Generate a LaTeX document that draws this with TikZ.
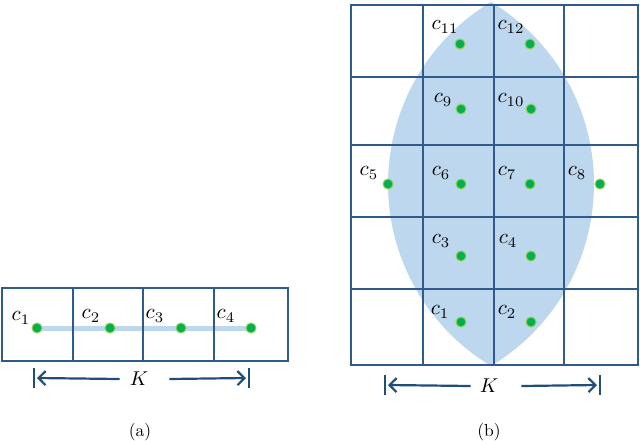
\documentclass[tikz,border=0pt]{standalone}
\usepackage{graphicx}
\usetikzlibrary{arrows.meta,calc}
\definecolor{gridc}{HTML}{2F5A8A}
\definecolor{lensc}{HTML}{BDD7EE}
\definecolor{dotc}{HTML}{00B050}
\definecolor{dotring}{HTML}{92D050}
\definecolor{arrc}{HTML}{1F4E79}
\newcommand{\mylbl}[1]{\scalebox{2.1}{$#1$}}
\newcommand{\myK}{\scalebox{2.0}{$K$}}
\newcommand{\mycap}[1]{\scalebox{1.75}{#1}}
\tikzset{
  gridline/.style={draw=gridc,line width=1.3pt},
  dotnode/.style={circle,fill=dotc,draw=dotring,line width=1pt,inner sep=0pt,minimum size=10pt},
  lab/.style={inner sep=0pt},
  kline/.style={draw=arrc,line width=2.2pt},
  karrow/.style={kline,-{Straight Barb[length=7pt,width=14pt,line width=2.2pt]}},
  captxt/.style={inner sep=0pt}
}
\begin{document}
\begin{tikzpicture}[x=1pt,y=1pt]
\useasboundingbox (0,0) rectangle (640,-440);
% ---------- (a) ----------
\coordinate (a1) at (37,-328);
\coordinate (a2) at (110,-328);
\coordinate (a3) at (181,-328);
\coordinate (a4) at (251,-328);
\draw[lensc,line width=5pt] (a1) -- (a4);
\draw[gridline] (2,-288) rectangle (288,-361);
\draw[gridline] (73,-288) -- (73,-361) (143,-288) -- (143,-361) (214,-288) -- (214,-361);
\node[dotnode] (da1) at (a1) {};
\node[dotnode] (da2) at (a2) {};
\node[dotnode] (da3) at (a3) {};
\node[dotnode] (da4) at (a4) {};
\node[lab] (la1) at (21,-318) {\mylbl{c_1}};
\node[lab] (la2) at (91,-316) {\mylbl{c_2}};
\node[lab] (la3) at (155,-316) {\mylbl{c_3}};
\node[lab] (la4) at (226,-316) {\mylbl{c_4}};
% K arrow (a)
\coordinate (aL) at (34,-378);
\coordinate (aR) at (249,-378);
\node[lab] (aK) at (139,-379) {\myK};
\draw[kline] ($(aL)+(0,10)$) -- ($(aL)+(0,-10)$);
\draw[kline] ($(aR)+(0,10)$) -- ($(aR)+(0,-10)$);
\draw[karrow] ($(aK.west)+(-10,0)$) -- ($(aL)+(3,0)$);
\draw[karrow] ($(aK.east)+(21,0)$) -- ($(aR)+(-3,0)$);
\node[captxt] (capa) at (140,-432) {\mycap{(a)}};
% ---------- (b) ----------
\fill[lensc] (491,-2) arc[start angle=121, end angle=239, radius=212.3pt]
  arc[start angle=-59, end angle=59, radius=212.3pt] -- cycle;
\draw[gridline] (351,-5) rectangle (638,-365);
\foreach \xx in {423,494,564} \draw[gridline] (\xx,-5) -- (\xx,-365);
\foreach \yy in {77,145,217,289} \draw[gridline] (351,-\yy) -- (638,-\yy);
\node[dotnode] (b1) at (461,-322) {};
\node[dotnode] (b2) at (531,-322) {};
\node[dotnode] (b3) at (461,-256) {};
\node[dotnode] (b4) at (531,-256) {};
\node[dotnode] (b5) at (388,-184) {};
\node[dotnode] (b6) at (461,-184) {};
\node[dotnode] (b7) at (530,-184) {};
\node[dotnode] (b8) at (600,-184) {};
\node[dotnode] (b9) at (461,-109) {};
\node[dotnode] (b10) at (531,-109) {};
\node[dotnode] (b11) at (460,-44) {};
\node[dotnode] (b12) at (530,-44) {};
\node[lab] (lb1) at (440,-312) {\mylbl{c_1}};
\node[lab] (lb2) at (507,-312) {\mylbl{c_2}};
\node[lab] (lb3) at (441,-241) {\mylbl{c_3}};
\node[lab] (lb4) at (508,-241) {\mylbl{c_4}};
\node[lab] (lb5) at (369,-173) {\mylbl{c_5}};
\node[lab] (lb6) at (441,-173) {\mylbl{c_6}};
\node[lab] (lb7) at (507,-173) {\mylbl{c_7}};
\node[lab] (lb8) at (577,-173) {\mylbl{c_8}};
\node[lab] (lb9) at (443,-100) {\mylbl{c_9}};
\node[lab] (lb10) at (511,-100) {\mylbl{c_{10}}};
\node[lab] (lb11) at (445,-27) {\mylbl{c_{11}}};
\node[lab] (lb12) at (511,-27) {\mylbl{c_{12}}};
% K arrow (b)
\coordinate (bL) at (385,-385);
\coordinate (bR) at (600,-385);
\node[lab] (bK) at (489,-386) {\myK};
\draw[kline] ($(bL)+(0,10)$) -- ($(bL)+(0,-10)$);
\draw[kline] ($(bR)+(0,10)$) -- ($(bR)+(0,-10)$);
\draw[karrow] ($(bK.west)+(-9,0)$) -- ($(bL)+(3,0)$);
\draw[karrow] ($(bK.east)+(23,0)$) -- ($(bR)+(-3,0)$);
\node[captxt] (capb) at (489,-432) {\mycap{(b)}};
\end{tikzpicture}
\end{document}
